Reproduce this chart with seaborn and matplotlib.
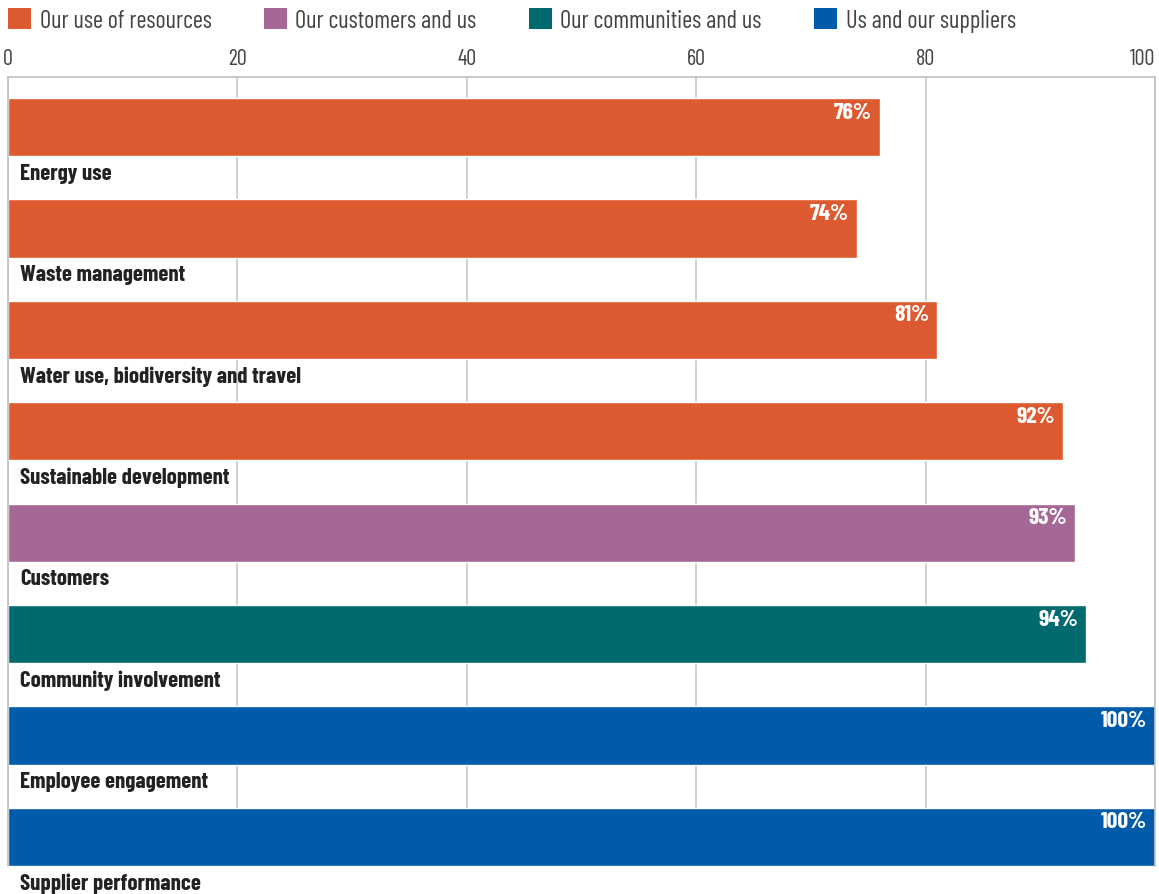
import matplotlib
matplotlib.use("Agg")
import matplotlib.pyplot as plt
from matplotlib.patches import Patch
import pandas as pd
import seaborn as sns

categories = [
    "Energy use",
    "Waste management",
    "Water use, biodiversity and travel",
    "Sustainable development",
    "Customers",
    "Community involvement",
    "Employee engagement",
    "Supplier performance",
]
values = [76, 74, 81, 92, 93, 94, 100, 100]
groups = [
    "Our use of resources",
    "Our use of resources",
    "Our use of resources",
    "Our use of resources",
    "Our customers and us",
    "Our communities and us",
    "Us and our suppliers",
    "Us and our suppliers",
]
group_order = [
    "Our use of resources",
    "Our customers and us",
    "Our communities and us",
    "Us and our suppliers",
]
group_colors = ["#DD5A30", "#A56896", "#006A6E", "#005BAA"]
x_ticks = [0, 20, 40, 60, 80, 100]

df = pd.DataFrame({"category": categories, "value": values, "group": groups})

sns.set_theme(style="white")
# condensed face, close to the original Helvetica Condensed look
plt.rcParams["font.family"] = ["Barlow Condensed", "Liberation Sans", "DejaVu Sans"]

fig = plt.figure(figsize=(11.59, 8.95), dpi=100)
ax = fig.add_axes([8 / 1159, 1 - 867 / 895, (1155 - 8) / 1159, (867 - 78) / 895])

bar_h = 0.573
sns.barplot(
    data=df, x="value", y="category", hue="group", hue_order=group_order,
    palette=group_colors, dodge=False, width=bar_h, orient="h",
    saturation=1, legend=False, ax=ax,
)

ax.set_xlim(0, 100)
ax.set_ylim(len(categories) - 1 + bar_h / 2, -bar_h / 2 - 21 / 101.3)
ax.xaxis.tick_top()
ax.set_xticks(x_ticks)
ax.set_xticklabels([str(t) for t in x_ticks], fontsize=16, color="#444444")
ax.tick_params(axis="x", length=0, pad=6)
ax.xaxis.get_major_ticks()[-1].label2.set_horizontalalignment("right")
ax.set_yticks([])
ax.set_xlabel("")
ax.set_ylabel("")
ax.set_axisbelow(True)
ax.grid(axis="x", color="#c8c8c8", linewidth=1.2)
ax.grid(axis="y", visible=False)
for side in ["top", "left", "right"]:
    ax.spines[side].set_color("#c0c0c0")
    ax.spines[side].set_linewidth(1.2)
ax.spines["bottom"].set_visible(False)

for i, (cat, val) in enumerate(zip(categories, values)):
    ax.text(val - 0.7, i - bar_h / 2 + 0.035, f"{val}%", ha="right", va="top",
            color="white", fontsize=17, fontweight="bold")
    ax.text(1.05, i + bar_h / 2 + 0.065, cat, ha="left", va="top",
            color="#222222", fontsize=16.5, fontweight="bold", clip_on=False)

handles = [Patch(facecolor=c, edgecolor="none") for c in group_colors]
fig.legend(handles, group_order, loc="upper left",
           bbox_to_anchor=(8 / 1159, 1 - 9 / 895),
           ncol=4, frameon=False, fontsize=17.5, labelcolor="#444444",
           handlelength=0.95, handleheight=0.95, handletextpad=0.35,
           columnspacing=2.15, borderpad=0, borderaxespad=0)

fig.savefig("out.png", dpi=100)
